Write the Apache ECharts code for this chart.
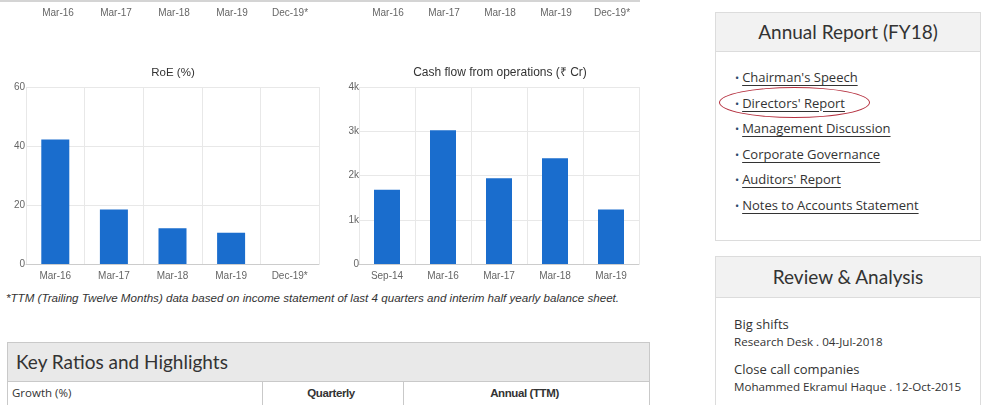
<!DOCTYPE html>
<html>
<head>
<meta charset="utf-8">
<script src="https://cdn.jsdelivr.net/npm/echarts@6/dist/echarts.min.js"></script>
<style>
  html, body { margin: 0; padding: 0; background: #fff; }
  body { width: 1000px; height: 405px; position: relative; overflow: hidden; font-family: "Liberation Sans", Arial, sans-serif; }
  #topline { position: absolute; left: 0; top: 0; width: 640px; height: 2px; background: #d4d4d4; }
  #charts { position: absolute; left: 0; top: 0; width: 680px; height: 290px; }
  #note { position: absolute; left: 6px; top: 291px; font-size: 11.6px; font-style: italic; color: #333; white-space: nowrap; }
  .ratios { position: absolute; left: 7px; top: 342px; width: 641px; height: 80px; border: 1px solid #c9c9c9; background: #fff; }
  .ratios .hd { height: 38px; background: #e9e9e9; border-bottom: 1px solid #c9c9c9; font-family: Lato, sans-serif; font-size: 19px; color: #333; line-height: 38px; padding-left: 8px; }
  .ratios .row { position: relative; height: 30px; font-size: 12px; color: #333; }
  .ratios .c { position: absolute; top: 0; height: 30px; line-height: 22px; }
  .ratios .c1 { left: 0; width: 250px; padding-left: 4px; font-family: "Open Sans", sans-serif; font-size: 11.5px; border-right: 1px solid #c9c9c9; }
  .ratios .c2 { left: 255px; width: 144px; text-align: center; font-weight: bold; font-size: 11.5px; letter-spacing: -0.4px; border-right: 1px solid #c9c9c9; }
  .ratios .c3 { left: 400px; width: 241px; text-align: center; font-weight: bold; font-size: 11.5px; letter-spacing: -0.4px; }
  .box { position: absolute; left: 715px; width: 264px; border: 1px solid #dcdcdc; background: #fff; font-family: "Open Sans", sans-serif; color: #333; }
  .box .bh { background: #f2f2f2; border-bottom: 1px solid #dcdcdc; text-align: center; font-family: Lato, sans-serif; font-size: 19px; color: #333; }
  #annual { top: 12px; height: 227px; }
  #annual .bh { height: 38px; line-height: 38px; }
  #annual ul { list-style: none; margin: 0; padding: 0; position: absolute; left: 19px; top: 54px; }
  #annual li { height: 25.6px; font-size: 13px; line-height: 20px; white-space: nowrap; }
  #annual li::before { content: "\2022"; color: #2c4a6b; margin-right: 3px; font-size: 11px; }
  #annual li span { text-decoration: underline; text-underline-offset: 3px; color: #333; }
  #ellipse { position: absolute; left: 719px; top: 87px; width: 151px; height: 31px; border: 1px solid #b5303f; border-radius: 50%; box-sizing: border-box; }
  #review { top: 256px; height: 160px; }
  #review .bh { height: 40px; line-height: 40px; }
  #review .it { position: absolute; left: 18px; white-space: nowrap; }
  #review .t { font-size: 13px; }
  #review .m { font-size: 11.6px; }
</style>
</head>
<body>
<div id="topline"></div>
<div id="charts"></div>
<div id="note">*TTM (Trailing Twelve Months) data based on income statement of last 4 quarters and interim half yearly balance sheet.</div>

<div class="ratios">
  <div class="hd">Key Ratios and Highlights</div>
  <div class="row">
    <div class="c c1">Growth (%)</div>
    <div class="c c2" style="left:251px">Quarterly</div>
    <div class="c c3" style="left:396px">Annual (TTM)</div>
  </div>
</div>

<div class="box" id="annual">
  <div class="bh">Annual Report (FY18)</div>
  <ul>
    <li><span>Chairman's Speech</span></li>
    <li><span>Directors' Report</span></li>
    <li><span>Management Discussion</span></li>
    <li><span>Corporate Governance</span></li>
    <li><span>Auditors' Report</span></li>
    <li><span>Notes to Accounts Statement</span></li>
  </ul>
</div>
<div id="ellipse"></div>

<div class="box" id="review">
  <div class="bh">Review &amp; Analysis</div>
  <div class="it t" style="top:58px">Big shifts</div>
  <div class="it m" style="top:77px">Research Desk . 04-Jul-2018</div>
  <div class="it t" style="top:103px">Close call companies</div>
  <div class="it m" style="top:122px">Mohammed Ekramul Haque . 12-Oct-2015</div>
</div>

<script>
// Period labels of the two charts in the row above (only their x axes show here)
const upperPeriods = ['Mar-16', 'Mar-17', 'Mar-18', 'Mar-19', 'Dec-19*'];

// Return on equity (%)
const roePeriods = ['Mar-16', 'Mar-17', 'Mar-18', 'Mar-19', 'Dec-19*'];
const roeValues = [42.2, 18.5, 12.1, 10.6, null];
const roeTicks = { min: 0, max: 60, interval: 20 };

// Cash flow from operations (Rs Cr)
const cfoPeriods = ['Sep-14', 'Mar-16', 'Mar-17', 'Mar-18', 'Mar-19'];
const cfoValues = [1680, 3020, 1940, 2390, 1230];
const cfoTicks = { min: 0, max: 4000, interval: 1000 };

const BAR = '#1a6dcd';
const GRIDLINE = '#e8e8e8';
const LABEL = { color: '#666', fontSize: 10, fontFamily: 'Liberation Sans' };

function xAxis(gridIndex, data) {
  return {
    type: 'category', gridIndex, data,
    axisLine: { lineStyle: { color: '#cccccc' } },
    axisTick: { show: false },
    axisLabel: Object.assign({ margin: 7 }, LABEL),
    splitLine: { show: true, lineStyle: { color: GRIDLINE } }
  };
}
function yAxis(gridIndex, ticks, fmt, margin) {
  return {
    type: 'value', gridIndex, min: ticks.min, max: ticks.max, interval: ticks.interval,
    axisLine: { show: false }, axisTick: { show: false },
    axisLabel: Object.assign({ margin, formatter: fmt }, LABEL),
    splitLine: { lineStyle: { color: GRIDLINE } }
  };
}

const chart = echarts.init(document.getElementById('charts'), null, { renderer: 'canvas' });
chart.setOption({
  animation: false,
  title: [
    { text: 'RoE (%)', left: 168, top: 62, textAlign: 'center',
      textStyle: { fontSize: 11.5, fontWeight: 'normal', color: '#333', fontFamily: 'Liberation Sans' } },
    { text: 'Cash flow from operations (\u20B9 Cr)', left: 495, top: 62, textAlign: 'center',
      textStyle: { fontSize: 12, fontWeight: 'normal', color: '#333', fontFamily: 'Liberation Sans' } }
  ],
  grid: [
    { left: 29, top: 0, width: 290, height: 1 },
    { left: 360, top: 0, width: 280, height: 1 },
    { left: 26, top: 87, width: 293, height: 177 },
    { left: 359, top: 87, width: 280, height: 177 }
  ],
  xAxis: [
    Object.assign(xAxis(0, upperPeriods), { axisLine: { show: false }, splitLine: { show: false } }),
    Object.assign(xAxis(1, upperPeriods), { axisLine: { show: false }, splitLine: { show: false } }),
    xAxis(2, roePeriods),
    xAxis(3, cfoPeriods)
  ],
  yAxis: [
    { type: 'value', gridIndex: 0, show: false },
    { type: 'value', gridIndex: 1, show: false },
    yAxis(2, roeTicks, v => String(v), 1),
    yAxis(3, cfoTicks, v => (v === 0 ? '0' : (v / 1000) + 'k'), 0)
  ],
  series: [
    { type: 'bar', xAxisIndex: 0, yAxisIndex: 0, data: [] },
    { type: 'bar', xAxisIndex: 1, yAxisIndex: 1, data: [] },
    { type: 'bar', xAxisIndex: 2, yAxisIndex: 2, data: roeValues, barWidth: 28,
      itemStyle: { color: BAR } },
    { type: 'bar', xAxisIndex: 3, yAxisIndex: 3, data: cfoValues, barWidth: 26,
      itemStyle: { color: BAR } }
  ]
});
</script>
</body>
</html>
